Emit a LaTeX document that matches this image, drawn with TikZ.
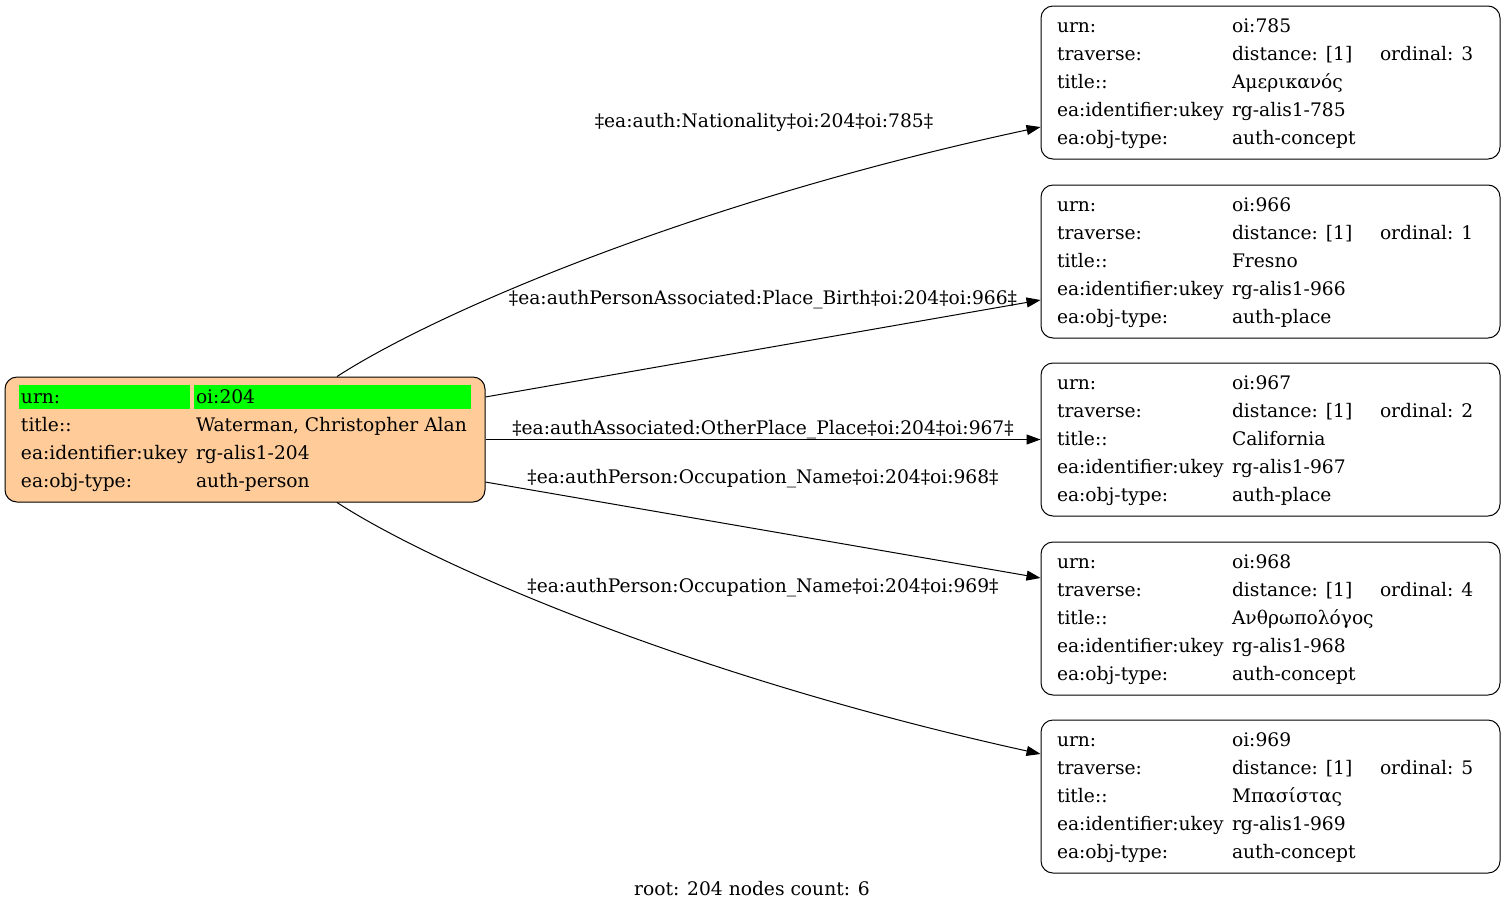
\documentclass[tikz,border=0pt]{standalone}
\usepackage{fontspec}
\setmainfont{DejaVu Serif}
\usepackage{tikz}
\usetikzlibrary{arrows.meta,positioning}

\definecolor{peach}{HTML}{FFCC99}
\definecolor{hl}{HTML}{00FF00}

\begin{document}
\begin{tikzpicture}[x=0.75pt,y=-0.75pt,line width=0.75pt,
	>={Triangle[length=10.5pt,width=7.5pt]},
	every node/.style={font=\fontsize{14}{21}\selectfont},
	root node/.style={rectangle,rounded corners=9pt,draw,fill=peach,inner xsep=12pt,inner ysep=4.875pt,
		path picture={
			\fill[hl,sharp corners] ([shift={(14,8)}]path picture bounding box.north west) rectangle ++(171,24);
			\fill[hl,sharp corners] ([shift={(189,8)}]path picture bounding box.north west) rectangle ++(277,24);
		}},
	leaf node/.style={rectangle,rounded corners=9pt,draw,fill=white,inner xsep=12pt,inner ysep=4.875pt},
	link label/.style={inner sep=0pt}
]
	\useasboundingbox (0,0) rectangle (1505,911);

	\node[root node] (root) at (245,439.5) {\begin{tabular}{@{}p{131.25pt}@{}p{204.75pt}@{}}
		urn: & oi:204\\
		title:: & Waterman, Christopher Alan\\
		ea:identifier:ukey & rg-alis1-204\\
		ea:obj-type: & auth-person
	\end{tabular}};

	\node[leaf node] (n785) at (1270.5,82.5) {\begin{tabular}{@{}p{131.25pt}@{}p{111pt}@{}p{78pt}@{}}
		urn: & oi:785 &\\
		traverse: & distance: [1] & ordinal: 3\\
		title:: & Αμερικανός &\\
		ea:identifier:ukey & rg-alis1-785 &\\
		ea:obj-type: & auth-concept &
	\end{tabular}};
	\node[leaf node] (n966) at (1270.5,261.5) {\begin{tabular}{@{}p{131.25pt}@{}p{111pt}@{}p{78pt}@{}}
		urn: & oi:966 &\\
		traverse: & distance: [1] & ordinal: 1\\
		title:: & Fresno &\\
		ea:identifier:ukey & rg-alis1-966 &\\
		ea:obj-type: & auth-place &
	\end{tabular}};
	\node[leaf node] (n967) at (1270.5,439.5) {\begin{tabular}{@{}p{131.25pt}@{}p{111pt}@{}p{78pt}@{}}
		urn: & oi:967 &\\
		traverse: & distance: [1] & ordinal: 2\\
		title:: & California &\\
		ea:identifier:ukey & rg-alis1-967 &\\
		ea:obj-type: & auth-place &
	\end{tabular}};
	\node[leaf node] (n968) at (1270.5,618.5) {\begin{tabular}{@{}p{131.25pt}@{}p{111pt}@{}p{78pt}@{}}
		urn: & oi:968 &\\
		traverse: & distance: [1] & ordinal: 4\\
		title:: & Ανθρωπολόγος &\\
		ea:identifier:ukey & rg-alis1-968 &\\
		ea:obj-type: & auth-concept &
	\end{tabular}};
	\node[leaf node] (n969) at (1270.5,796.5) {\begin{tabular}{@{}p{131.25pt}@{}p{111pt}@{}p{78pt}@{}}
		urn: & oi:969 &\\
		traverse: & distance: [1] & ordinal: 5\\
		title:: & Μπασίστας &\\
		ea:identifier:ukey & rg-alis1-969 &\\
		ea:obj-type: & auth-concept &
	\end{tabular}};

	\draw[->] ([xshift=69pt]root.north) .. controls (440,310) and (700,200) .. ([yshift=-33.4pt]n785.west);
	\draw[->] ([yshift=31.9pt]root.east) -- ([yshift=-28.9pt]n966.west);
	\draw[->] (root.east) -- (n967.west);
	\draw[->] ([yshift=-31.9pt]root.east) -- ([yshift=30.4pt]n968.west);
	\draw[->] ([xshift=69pt]root.south) .. controls (440,569) and (700,679) .. ([yshift=31.9pt]n969.west);

	\node[link label] (l785) at (764,122.5) {‡ea:auth:Nationality‡oi:204‡oi:785‡};
	\node[link label] (l966) at (763,300) {‡ea:authPersonAssociated:Place\_Birth‡oi:204‡oi:966‡};
	\node[link label] (l967) at (763,430) {‡ea:authAssociated:OtherPlace\_Place‡oi:204‡oi:967‡};
	\node[link label] (l968) at (763,478.5) {‡ea:authPerson:Occupation\_Name‡oi:204‡oi:968‡};
	\node[link label] (l969) at (763,587.5) {‡ea:authPerson:Occupation\_Name‡oi:204‡oi:969‡};

	\node (caption) at (752,889) {root: 204 nodes count: 6};
\end{tikzpicture}
\end{document}
